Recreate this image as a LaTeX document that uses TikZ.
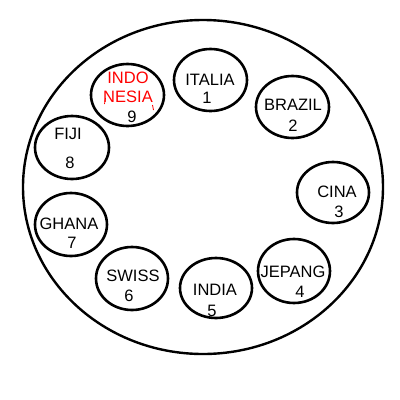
\documentclass[tikz,border=0pt]{standalone}
\usepackage{fontspec}
\setmainfont{Liberation Sans}
\usetikzlibrary{shapes.geometric}
\begin{document}
\begin{tikzpicture}[x=1pt,y=-1pt,
  ring/.style={draw=black,line width=2.6pt,ellipse,inner sep=0pt,minimum width=73pt,minimum height=62pt},
  lbl/.style={font=\fontsize{16.5}{18}\selectfont,inner sep=0pt,text=black},
  redlbl/.style={lbl,text=red}]
\useasboundingbox (0,0) rectangle (400,400);
\node[draw=black,line width=2.4pt,ellipse,inner sep=0pt,minimum width=360pt,minimum height=334pt] (outer) at (203,187) {};
\node[ring] (e1) at (210.5,80) {};
\node[ring] (e2) at (292.5,107) {};
\node[ring,minimum width=72pt,minimum height=61pt] (e3) at (333,192.5) {};
\node[ring,minimum width=72pt,minimum height=64pt] (e4) at (294,271) {};
\node[ring,minimum width=72pt,minimum height=60pt] (e5) at (216,288) {};
\node[ring,minimum width=72pt,minimum height=63pt] (e6) at (132,278.5) {};
\node[ring,minimum width=72pt,minimum height=63pt] (e7) at (71,224.5) {};
\node[ring,minimum width=74pt,minimum height=63pt] (e8) at (72,147.5) {};
\node[ring] (e9) at (127.5,95) {};
\node[lbl] (t1) at (210,80) {ITALIA};
\node[lbl] (n1) at (207,98) {1};
\node[lbl] (t2) at (293,105) {BRAZIL};
\node[lbl] (n2) at (293,126) {2};
\node[lbl] (t3) at (337,192) {CINA};
\node[lbl] (n3) at (339,212) {3};
\node[lbl] (t4) at (293,272) {JEPANG};
\node[lbl] (n4) at (300,292) {4};
\node[lbl] (t5) at (215,290) {INDIA};
\node[lbl] (n5) at (212,311) {5};
\node[lbl] (t6) at (133,276) {SWISS};
\node[lbl] (n6) at (129,296) {6};
\node[lbl] (t7) at (69,224) {GHANA};
\node[lbl] (n7) at (72,243) {7};
\node[lbl] (t8) at (68,134) {FIJI};
\node[lbl] (n8) at (70,163) {8};
\node[redlbl] (t9a) at (128,78) {INDO};
\node[redlbl] (t9b) at (128,97) {NESIA};
\node[lbl] (n9) at (132,117) {9};
\coordinate (r1a) at (105.5,98);
\coordinate (r1b) at (104.5,104);
\coordinate (r2a) at (152.5,105);
\coordinate (r2b) at (153.5,110);
\draw[red,line width=0.8pt] (r1a) -- (r1b);
\draw[red,line width=0.8pt] (r2a) -- (r2b);
\end{tikzpicture}
\end{document}
